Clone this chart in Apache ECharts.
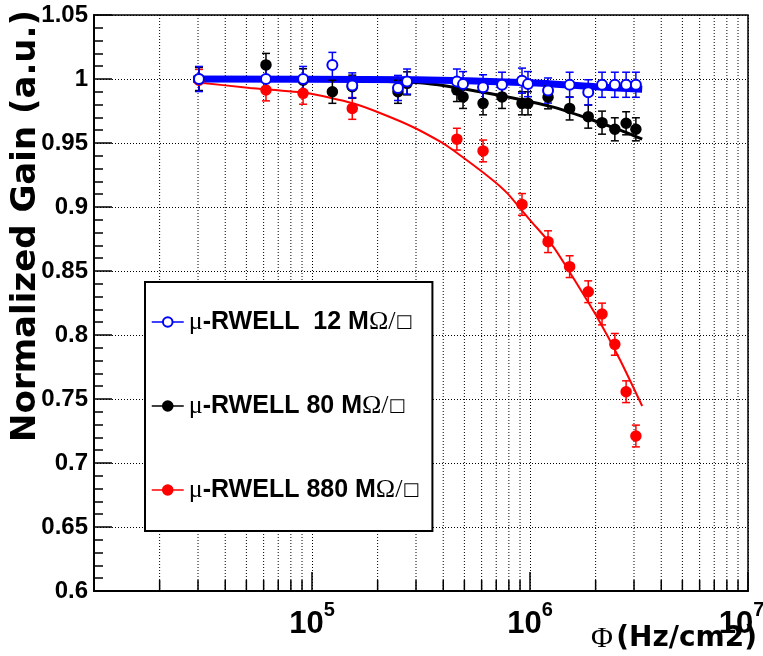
<!DOCTYPE html>
<html>
<head>
<meta charset="utf-8">
<script src="https://cdn.jsdelivr.net/npm/echarts@6/dist/echarts.min.js"></script>
<style>
  html, body { margin: 0; padding: 0; background: #fff; }
  #chart { width: 763px; height: 656px; }
</style>
</head>
<body>
<div id="chart"></div>
<script>
// measured rate points (Hz/cm2)
const flux = [3.03e4, 6.15e4, 9.1e4, 1.24e5, 1.53e5, 2.48e5, 2.73e5, 4.62e5, 4.93e5, 6.09e5,
  7.44e5, 9.19e5, 9.79e5, 1.21e6, 1.52e6, 1.85e6, 2.14e6, 2.45e6, 2.76e6, 3.06e6]

const gain12 = [1.0, 1.0, 1.0, 1.011, 0.995, 0.993, 0.998, 0.998, 0.996, 0.9935,
  0.9955, 0.9987, 0.996, 0.991, 0.9955, 0.9896, 0.9955, 0.9955, 0.9955, 0.9955]
const gain80 = [1.0, 1.011, 0.999, 0.990, 0.994, 0.990, 0.9966, 0.9914, 0.986, 0.981,
  0.986, 0.981, 0.981, 0.9857, 0.977, 0.9706, 0.9659, 0.9607, 0.9654, 0.9607]
const gain880 = [0.999, 0.9914, 0.9888, null, 0.977, null, null, 0.953, null, 0.9438,
  null, 0.902, null, 0.8729, 0.8534, 0.8338, 0.8164, 0.7927, 0.7557, 0.7211]

const err12 = 0.0098
const err80 = 0.009
const err880 = 0.0085

// fitted curves
const fit12 = [[2.85e4, 1.0], [3e5, 0.9995], [1e6, 0.997], [2e6, 0.994], [3.27e6, 0.992]]
const fit80 = [[2.85e4, 1.0], [1e5, 0.9995], [3.13e5, 0.997], [6.35e5, 0.989], [1.28e6, 0.978],
  [1.82e6, 0.9695], [2.59e6, 0.960], [3.27e6, 0.953]]
const fit880 = [[2.85e4, 0.9977], [5.2e4, 0.993], [9.5e4, 0.989], [1.54e5, 0.981], [2.05e5, 0.9734],
  [2.9e5, 0.9625], [3.86e5, 0.9512], [4.43e5, 0.9445], [6.56e5, 0.9227], [7.84e5, 0.911],
  [1e6, 0.8898], [1.28e6, 0.8688], [1.57e6, 0.8453], [2.03e6, 0.814], [2.59e6, 0.7805], [3.27e6, 0.7445]]

const seriesNames = ["μ-RWELL  12 MΩ/□", "μ-RWELL 80 MΩ/□", "μ-RWELL 880 MΩ/□"]
const legendParts = ["-RWELL  12 M", "-RWELL 80 M", "-RWELL 880 M"]

const xMinorTicks = []
for (const decade of [1e4, 1e5, 1e6]) {
  for (let k = 2; k <= 9; k++) xMinorTicks.push(k * decade)
}

const BLUE = "#0000ff"
const RED = "#ff0000"
const BLACK = "#000000"
const narrow = "'Liberation Sans Narrow', 'Liberation Sans', sans-serif"

function points(values) {
  return flux.map((f, i) => [f, values[i]])
}

function errorBars(values, err) {
  return flux.map((f, i) => [f, values[i], err]).filter(d => d[1] !== null)
}

function errorBarItem(color) {
  return (params, api) => {
    const x = api.value(0)
    const y = api.value(1)
    const e = api.value(2)
    const hi = api.coord([x, y + e])
    const lo = api.coord([x, y - e])
    const cap = 4
    const style = { stroke: color, lineWidth: 1.5 }
    return {
      type: "group",
      children: [
        { type: "line", shape: { x1: hi[0], y1: hi[1], x2: lo[0], y2: lo[1] }, style },
        { type: "line", shape: { x1: hi[0] - cap, y1: hi[1], x2: hi[0] + cap, y2: hi[1] }, style },
        { type: "line", shape: { x1: lo[0] - cap, y1: lo[1], x2: lo[0] + cap, y2: lo[1] }, style }
      ]
    }
  }
}

function minorGridItem(params, api) {
  const p = api.coord([api.value(0), 0.6])
  const cs = params.coordSys
  return {
    type: "group",
    children: [
      { type: "line", shape: { x1: p[0], y1: cs.y, x2: p[0], y2: cs.y + cs.height },
        style: { stroke: "#000", lineWidth: 1, lineDash: [1, 2] } },
      { type: "line", shape: { x1: p[0], y1: cs.y + cs.height, x2: p[0], y2: cs.y + cs.height - 11 },
        style: { stroke: "#000", lineWidth: 1.5 } }
    ]
  }
}

function markerSeries(name, values, color, symbol) {
  return {
    name,
    type: "line",
    data: points(values),
    symbol,
    symbolSize: 10,
    showAllSymbol: true,
    connectNulls: false,
    lineStyle: { width: 0, color },
    itemStyle: { color, borderColor: color, borderWidth: 1.5 },
    emphasis: { disabled: true },
    z: 4
  }
}

function fitSeries(data, color, width) {
  return {
    type: "line",
    data,
    smooth: 0.2,
    symbol: "none",
    lineStyle: { color, width, cap: "butt" },
    emphasis: { disabled: true },
    silent: true,
    z: 3
  }
}

const chart = echarts.init(document.getElementById("chart"), null, { renderer: "canvas" })

chart.setOption({
  animation: false,
  backgroundColor: "#fff",
  grid: {
    left: 94, top: 15, width: 654, height: 576,
    outerBoundsMode: "none",
    containLabel: false,
    show: true, borderColor: "#000", borderWidth: 1.5, backgroundColor: "transparent"
  },
  xAxis: {
    type: "log",
    logBase: 10,
    min: 1e4,
    max: 1e7,
    axisLine: { lineStyle: { color: "#000", width: 2 } },
    axisTick: { inside: true, length: 19, lineStyle: { color: "#000", width: 1.5 } },
    splitLine: { show: true, lineStyle: { color: "#000", width: 1, type: [1, 2] } },
    axisLabel: {
      margin: 9,
      hideOverlap: false,
      formatter: v => {
        const exp = Math.round(Math.log10(v))
        if (exp <= 4) return ""
        return "{b|10}{" + (exp === 7 ? "supEnd" : "sup") + "|" + exp + "}"
      },
      rich: {
        b: { fontFamily: narrow, fontWeight: "bold", fontSize: 31, lineHeight: 40,
          verticalAlign: "bottom", color: "#000" },
        sup: { fontFamily: narrow, fontWeight: "bold", fontSize: 20, lineHeight: 20,
          verticalAlign: "top", color: "#000" },
        supEnd: { fontFamily: narrow, fontWeight: "bold", fontSize: 20, lineHeight: 20,
          verticalAlign: "top", color: "#000", padding: [0, 13, 0, 0] }
      }
    }
  },
  yAxis: {
    type: "value",
    min: 0.6,
    max: 1.05,
    interval: 0.05,
    axisLine: { show: true, lineStyle: { color: "#000", width: 2 } },
    axisTick: { inside: true, length: 18, lineStyle: { color: "#000", width: 1.5 } },
    minorTick: { show: true, splitNumber: 5, length: 9, lineStyle: { color: "#000", width: 1.5 } },
    splitLine: { show: true, lineStyle: { color: "#000", width: 1, type: [1, 2] } },
    axisLabel: {
      margin: 6,
      fontFamily: narrow,
      fontWeight: "bold",
      fontSize: 24,
      color: "#000"
    }
  },
  legend: {
    orient: "vertical",
    left: 145,
    top: 282,
    backgroundColor: "#fff",
    borderColor: "#000",
    borderWidth: 2,
    borderRadius: 0,
    padding: [27, 13, 28, 6],
    itemGap: 58,
    itemWidth: 32,
    itemHeight: 12,
    selectedMode: false,
    data: seriesNames,
    lineStyle: { width: 1.5 },
    formatter: name => {
      const i = seriesNames.indexOf(name)
      return "{n|μ}{b|" + legendParts[i] + "}{n|Ω/}{box|□}"
    },
    textStyle: {
      rich: {
        n: { fontFamily: "'Liberation Serif', serif", fontSize: 26, lineHeight: 31, color: "#000" },
        b: { fontFamily: "'Liberation Sans', sans-serif", fontWeight: "bold", fontSize: 25, lineHeight: 31, color: "#000" },
        box: { fontFamily: "'DejaVu Sans', sans-serif", fontSize: 18, lineHeight: 31, color: "#000" }
      }
    }
  },
  graphic: [
    {
      type: "text",
      x: 26,
      y: 10,
      rotation: Math.PI / 2,
      style: {
        text: "Normalized Gain (a.u.)",
        fontFamily: "'DejaVu Sans', sans-serif",
        fontWeight: "bold",
        fontSize: 34,
        fill: "#000",
        align: "right",
        verticalAlign: "middle"
      }
    },
    {
      type: "text",
      x: 757,
      y: 639,
      style: {
        text: "{phi|Φ} {t|(Hz/cm2)}",
        align: "right",
        verticalAlign: "middle",
        rich: {
          phi: { fontFamily: "'Liberation Serif', serif", fontSize: 30, fill: "#000" },
          t: { fontFamily: "'DejaVu Sans', sans-serif", fontWeight: "bold", fontSize: 28, fill: "#000" }
        }
      }
    }
  ],
  series: [
    {
      type: "custom",
      data: xMinorTicks.map(v => [v, 0.6]),
      renderItem: minorGridItem,
      silent: true,
      z: 1
    },
    fitSeries(fit880, RED, 2),
    fitSeries(fit80, BLACK, 3),
    fitSeries(fit12, BLUE, 7),
    { type: "custom", data: errorBars(gain880, err880), renderItem: errorBarItem(RED), silent: true, z: 4 },
    markerSeries(seriesNames[2], gain880, RED, "circle"),
    { type: "custom", data: errorBars(gain80, err80), renderItem: errorBarItem(BLACK), silent: true, z: 4 },
    markerSeries(seriesNames[1], gain80, BLACK, "circle"),
    { type: "custom", data: errorBars(gain12, err12), renderItem: errorBarItem(BLUE), silent: true, z: 4 },
    markerSeries(seriesNames[0], gain12, BLUE, "emptyCircle")
  ]
})
</script>
</body>
</html>
